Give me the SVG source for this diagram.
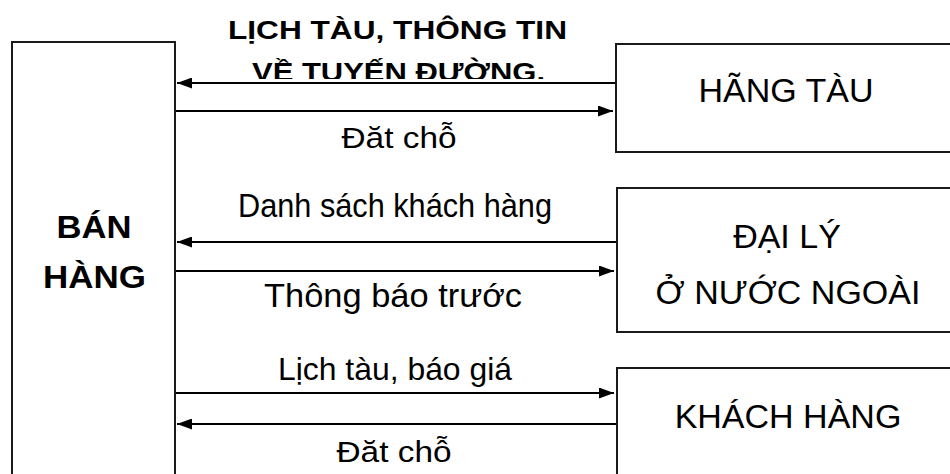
<svg xmlns="http://www.w3.org/2000/svg" width="950" height="474" viewBox="0 0 950 474">
<style>
.box{fill:#fff;stroke:#1a1a1a;stroke-width:2}
.ln{stroke:#000;stroke-width:2;fill:none}
.t{font-family:"Liberation Sans",Arial,sans-serif;fill:#000;text-anchor:middle}
.b{font-weight:bold}
</style>
<defs>
<marker id="ah" viewBox="0 0 15 11" refX="15" refY="5.5" markerWidth="15" markerHeight="11" markerUnits="userSpaceOnUse" orient="auto">
<path d="M0,0 L15,5.5 L0,11 Z" fill="#000"/>
</marker>
<clipPath id="clipTop"><rect x="0" y="0" width="950" height="79"/></clipPath>
</defs>
<rect width="950" height="474" fill="#fff"/>
<g id="ban-hang">
<rect class="box" x="12" y="42" width="163" height="450"/>
<text class="t b" font-size="31" x="94" y="238" textLength="75" lengthAdjust="spacingAndGlyphs">BÁN</text>
<text class="t b" font-size="31" x="94.5" y="288" textLength="103" lengthAdjust="spacingAndGlyphs">HÀNG</text>
</g>
<g id="hang-tau">
<rect class="box" x="616" y="44" width="350" height="108"/>
<text class="t" font-size="34" x="786" y="102">HÃNG TÀU</text>
</g>
<g id="dai-ly">
<rect class="box" x="617" y="188" width="350" height="144"/>
<text class="t" font-size="34" x="787" y="248">ĐẠI LÝ</text>
<text class="t" font-size="34" x="788" y="304">Ở NƯỚC NGOÀI</text>
</g>
<g id="khach-hang">
<rect class="box" x="617" y="368" width="350" height="120"/>
<text class="t" font-size="34" x="788" y="428">KHÁCH HÀNG</text>
</g>
<g id="connectors">
<line class="ln" x1="615" y1="83" x2="177" y2="83" marker-end="url(#ah)"/>
<line class="ln" x1="176" y1="111" x2="613" y2="111" marker-end="url(#ah)"/>
<line class="ln" x1="616" y1="242" x2="177" y2="242" marker-end="url(#ah)"/>
<line class="ln" x1="176" y1="271" x2="614" y2="271" marker-end="url(#ah)"/>
<line class="ln" x1="176" y1="393" x2="614" y2="393" marker-end="url(#ah)"/>
<line class="ln" x1="616" y1="424" x2="177" y2="424" marker-end="url(#ah)"/>
</g>
<g id="labels">
<text class="t b" font-size="26" x="397.5" y="39" textLength="339" lengthAdjust="spacingAndGlyphs">LỊCH TÀU, THÔNG TIN</text>
<text class="t b" font-size="26" x="398.5" y="81" textLength="293" lengthAdjust="spacingAndGlyphs" clip-path="url(#clipTop)">VỀ TUYẾN ĐƯỜNG.</text>
<text class="t" font-size="30" x="399" y="148" textLength="115" lengthAdjust="spacingAndGlyphs">Đăt chỗ</text>
<text class="t" font-size="33" x="395" y="217" textLength="314" lengthAdjust="spacingAndGlyphs">Danh sách khách hàng</text>
<text class="t" font-size="33" x="393" y="307" textLength="258" lengthAdjust="spacingAndGlyphs">Thông báo trước</text>
<text class="t" font-size="32" x="395" y="380" textLength="234" lengthAdjust="spacingAndGlyphs">Lịch tàu, báo giá</text>
<text class="t" font-size="30" x="394" y="462" textLength="115" lengthAdjust="spacingAndGlyphs">Đăt chỗ</text>
</g>
</svg>
